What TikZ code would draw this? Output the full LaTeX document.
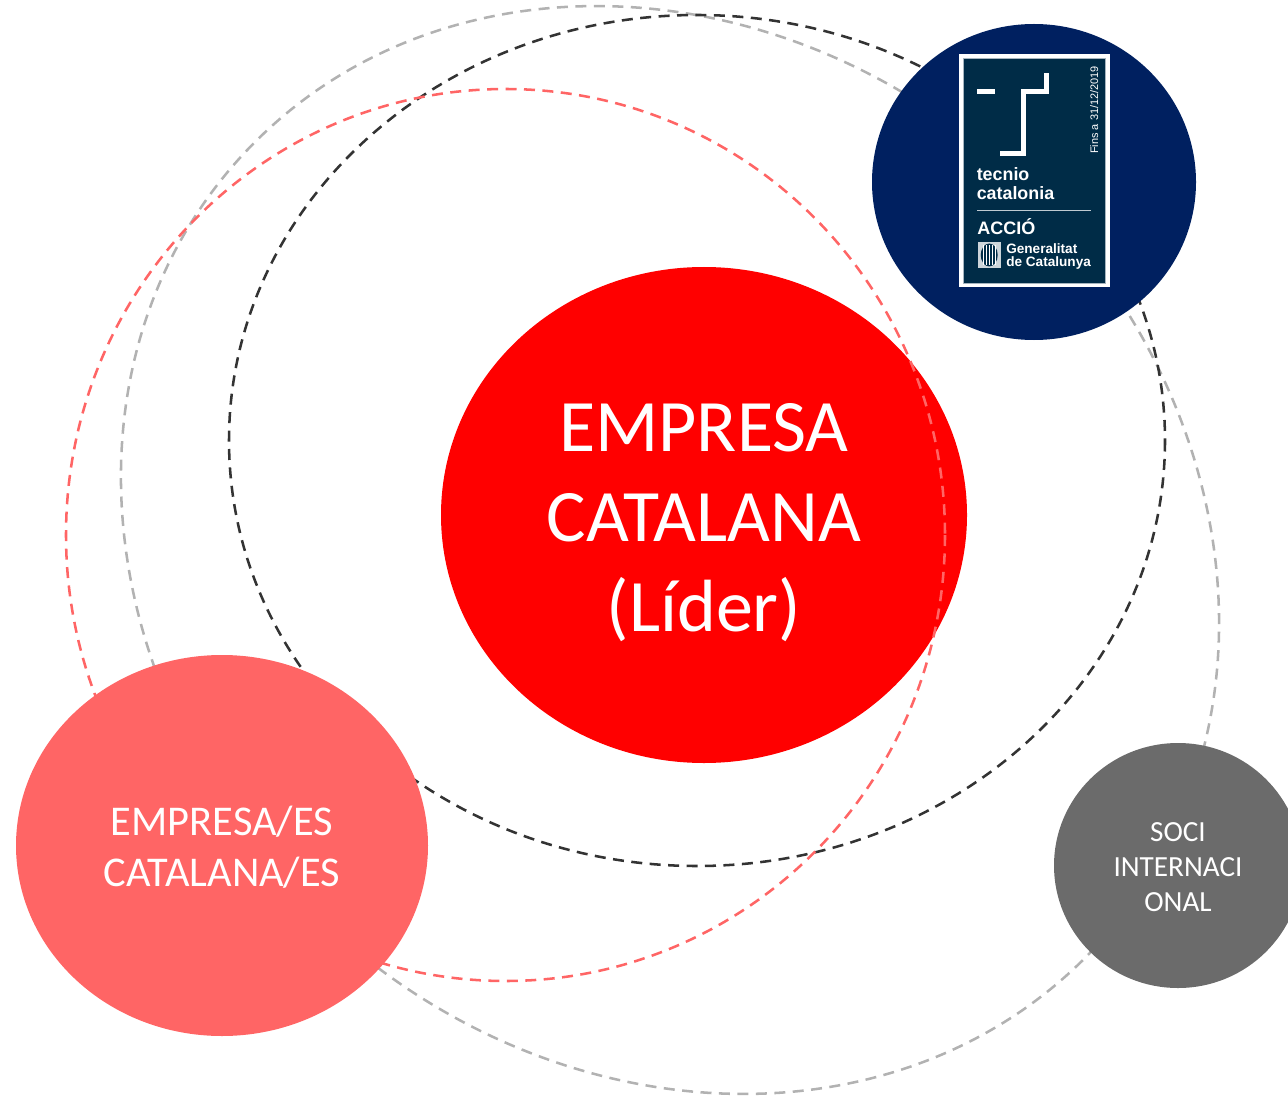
\documentclass[tikz,border=0pt]{standalone}
\usepackage{fontspec}
\setmainfont{Carlito}
\newfontfamily\logofont{Liberation Sans}
\usetikzlibrary{shapes.geometric}
\definecolor{navy}{HTML}{002060}
\definecolor{logoblue}{HTML}{002C47}
\definecolor{salmon}{HTML}{FF6565}
\definecolor{darkgray}{HTML}{6B6B6B}
\definecolor{ringgray}{HTML}{B2B2B2}
\definecolor{ringblack}{HTML}{333333}

\begin{document}
\begin{tikzpicture}
     [x=0.75pt,y=-0.75pt,
      % Styles
        ring/.style={line width=1.9pt,dash pattern=on 8.25pt off 5.6pt},
        partner/.style={ellipse,inner sep=0pt},
        partner text/.style={text=white,align=center,inner sep=0pt},
        logo text/.style={text=white,inner sep=0pt,anchor=base west}]
    \clip (0,0) rectangle (1288,1098);
    % central circle
    \node[partner,fill=red,minimum width=526*0.75pt,minimum height=496*0.75pt] (lider) at (704,515) {};
    \node[partner text,font=\fontsize{55.5}{67.5}\selectfont] (lidertext) at ([yshift=-6pt]lider.center)
          {EMPRESA\\CATALANA\\(Líder)};
    % dashed rings
    \draw[ring,ringgray] (670,550) [rotate around={-43:(670,550)}] ellipse (582 and 508.5);
    \draw[ring,ringblack] (697,440.5) ellipse (468 and 425.5);
    \draw[ring,salmon] (505.5,535) ellipse (439.5 and 446);
    % partners
    \node[partner,fill=salmon,minimum width=412*0.75pt,minimum height=381*0.75pt] (catalanes) at (222,845.5) {};
    \node[partner text,font=\fontsize{31.8}{38.25}\selectfont] (catalanestext) at ([yshift=-1.5pt]catalanes.center)
          {EMPRESA/ES\\CATALANA/ES};
    \node[partner,fill=darkgray,minimum width=248*0.75pt,minimum height=245*0.75pt] (soci) at (1178,865.5) {};
    \node[partner text,font=\fontsize{21.9}{26.25}\selectfont] (socitext) at ([yshift=-1.5pt]soci.center)
          {SOCI\\INTERNACI\\ONAL};
    \node[partner,fill=navy,minimum width=324*0.75pt,minimum height=316*0.75pt] (tecnio) at (1034,182) {};
    % logo
    \fill[white] (959,54) rectangle (1110,287);
    \draw[fill=logoblue,draw=white!65!logoblue,line width=0.5pt] (963.5,58) rectangle (1105.5,283);
    \fill[white] (977,89.5) rectangle (995,94);
    \draw[white,line width=3.5pt] (1000,153.3) -- (1023.3,153.3) -- (1023.3,91.7) -- (1046.7,91.7) -- (1046.7,72.7);
    \node[logo text,font=\logofont\fontsize{13.4}{15}\bfseries] (tecnioname) at (976.5,180.5) {tecnio};
    \node[logo text,font=\logofont\fontsize{13.4}{15}\bfseries] (catalonia) at (976.5,200) {catalonia};
    \draw[white!75!logoblue,line width=0.75pt] (977,211) -- (1091,211);
    \node[logo text,font=\logofont\fontsize{13.5}{15}\bfseries] (accio) at (977,235) {ACCIÓ};
    \node[logo text,font=\logofont\fontsize{10.2}{12}\bfseries] (generalitat) at (1006,254) {Generalitat};
    \node[logo text,font=\logofont\fontsize{10.2}{12}\bfseries] (catalunya) at (1006,267) {de Catalunya};
    \node[logo text,rotate=90,font=\logofont\fontsize{8.2}{10}\selectfont] (fins) at (1098,154) {Fins a 31/12/2019};
    % shield
    \fill[white!80!logoblue] (977.5,242) rectangle (1001,268);
    \fill[logoblue] (989.2,255) ellipse (8.5 and 11.5);
    \foreach \x in {982.5,985.5,988.5,991.5,994.5}
      \draw[white,line width=0.9pt] (\x+0.7,245) -- (\x+0.7,265);
  \end{tikzpicture}
\end{document}
